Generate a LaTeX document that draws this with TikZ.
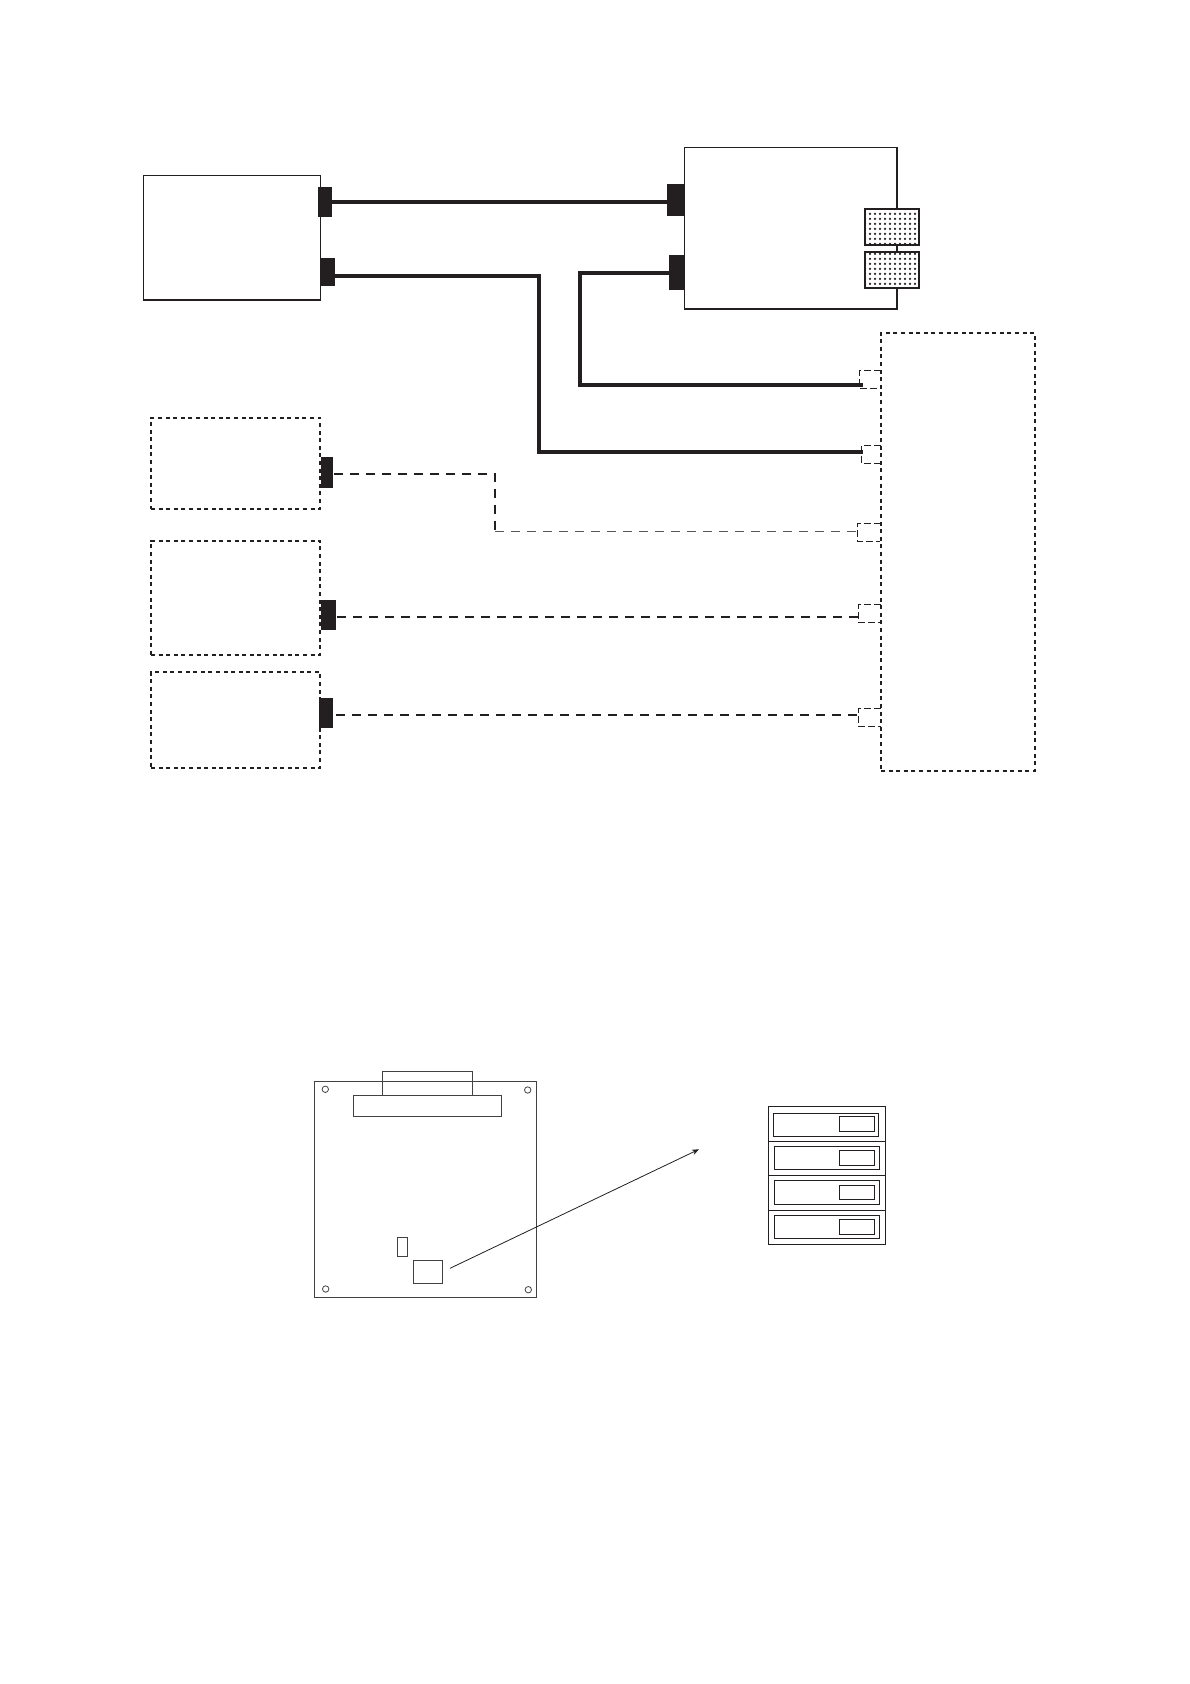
\documentclass[tikz,border=0pt]{standalone}
\usepackage{tikz}
\usetikzlibrary{arrows.meta, positioning, patterns.meta}
\definecolor{ink}{HTML}{231F20}
\tikzset{
  box/.style    = {rectangle, draw=ink, line width=1.5pt, anchor=north west,
                   inner sep=0pt, outer sep=0pt},
  dbox/.style   = {rectangle, draw=ink, line width=2pt, anchor=north west,
                   inner sep=0pt, outer sep=0pt, dash pattern=on 4pt off 3.6pt},
  plug/.style   = {rectangle, fill=ink, anchor=north west, inner sep=0pt, outer sep=0pt},
  stip/.style   = {rectangle, draw=ink, line width=1.9pt, anchor=north west,
                   inner sep=0pt, outer sep=0pt, minimum width=54pt, minimum height=36pt,
                   preaction={fill=white}, pattern={Dots[distance=5pt,radius=1.25pt]},
                   pattern color=ink},
  pin/.style    = {draw=ink, line width=1.3pt, dash pattern=on 7pt off 3pt},
  cable/.style  = {draw=ink, line width=4pt, line cap=butt, line join=miter},
  dcable/.style = {draw=ink, line width=2.1pt, dash pattern=on 9pt off 7pt},
  lcable/.style = {draw=ink!75, line width=1.3pt, dash pattern=on 9pt off 7pt},
  pcb/.style    = {rectangle, draw=ink!85, line width=1pt, anchor=north west,
                   inner sep=0pt, outer sep=0pt},
  hole/.style   = {circle, draw=ink!85, line width=0.8pt, inner sep=0pt, minimum size=6.4pt},
  sw/.style     = {rectangle, draw=ink, line width=1.2pt, anchor=north west,
                   inner sep=0pt, outer sep=0pt},
  ptr/.style    = {-{Stealth[length=7pt,width=5.5pt]}, draw=ink, line width=0.8pt},
}
\begin{document}
\begin{tikzpicture}[x=1pt,y=-1pt]
  \useasboundingbox (0,0) rectangle (1190,1684);

  \node[box, minimum width=177pt, minimum height=124.7pt] (host) at (143.7,175.3) {};
  \node[box, minimum width=212.5pt, minimum height=161.5pt] (main) at (684.5,147.5) {};
  \node[dbox, minimum width=154pt, minimum height=438pt] (ext) at (881,332.7) {};
  \node[dbox, minimum width=169pt, minimum height=91pt] (opta) at (151,417.7) {};
  \node[dbox, minimum width=169pt, minimum height=114.3pt] (optb) at (151,540.7) {};
  \node[dbox, minimum width=169pt, minimum height=95.7pt] (optc) at (151,672) {};

  \node[plug, minimum width=14pt, minimum height=30pt] (hosta) at (318,187) {};
  \node[plug, minimum width=14.7pt, minimum height=28pt] (hostb) at (320.3,258) {};
  \node[plug, minimum width=17.5pt, minimum height=32pt] (maina) at (667,184) {};
  \node[plug, minimum width=15.5pt, minimum height=35pt] (mainb) at (669,255) {};
  \node[plug, minimum width=12pt, minimum height=31pt] (optap) at (321,457) {};
  \node[plug, minimum width=14.7pt, minimum height=29.7pt] (optbp) at (321,600) {};
  \node[plug, minimum width=14pt, minimum height=30pt] (optcp) at (319,698) {};

  \node[stip] (panela) at (864.7,208.7) {};
  \node[stip, below=7.6pt of panela] (panelb) {};

  \coordinate (pina) at (859.7,370.3);
  \coordinate (pinb) at (861.7,445.3);
  \coordinate (pinc) at (857.7,523.3);
  \coordinate (pind) at (858.7,604.7);
  \coordinate (pine) at (858.7,708.3);
  \foreach \p in {pina,pinb,pinc,pind,pine}
    \draw[pin] (\p -| ext.west) -- (\p) -- ++(0,18) -- ++(22,0);

  \coordinate (enda) at (862.7,385);
  \coordinate (endb) at (862.7,451.5);
  \coordinate (endc) at (857.7,531.7);
  \coordinate (endd) at (858.7,616.7);
  \coordinate (ende) at (858.7,714.7);
  \coordinate (bendb) at (539,276.3);
  \coordinate (benda) at (580,273.3);
  \coordinate (bendc) at (495,473.7);

  \draw[cable] (hosta.east) -- (hosta.east -| maina.west);
  \draw[cable] (hostb.east |- bendb) -- (bendb) -- (bendb |- endb) -- (endb);
  \draw[cable] (mainb.west |- benda) -- (benda) -- (benda |- enda) -- (enda);
  \draw[dcable, shorten <=1pt] (optap.east |- bendc) -- (bendc) -- (bendc |- endc);
  \draw[lcable] (bendc |- endc) -- (endc);
  \draw[dcable, shorten <=1pt] (optbp.east |- endd) -- (endd);
  \draw[dcable, shorten <=3pt] (optcp.east |- ende) -- (ende);

  \node[pcb, minimum width=222pt, minimum height=216pt] (board) at (314.3,1081.3) {};
  \node[pcb, minimum width=90pt, minimum height=24pt] (tab) at (382.3,1071) {};
  \node[pcb, minimum width=148.3pt, minimum height=21.7pt] (slot) at (353,1095) {};
  \node[pcb, minimum width=10.4pt, minimum height=19pt] (jump) at (397.3,1237.3) {};
  \node[pcb, minimum width=29.4pt, minimum height=22.6pt] (dip) at (413.3,1260.7) {};
  \node[hole] (hola) at (325.3,1089.3) {};
  \node[hole] (holb) at (527.7,1090) {};
  \node[hole] (holc) at (325.7,1289) {};
  \node[hole] (hold) at (528.3,1289.7) {};

  \coordinate (ptra) at (450,1268.3);
  \coordinate (ptrb) at (699,1149.3);
  \draw[ptr] (ptra) -- (ptrb);

  \node[sw, minimum width=117.4pt, minimum height=35pt] (rowa) at (768.3,1106.3) {};
  \node[sw, minimum width=117.4pt, minimum height=34pt, below=0pt of rowa] (rowb) {};
  \node[sw, minimum width=117.4pt, minimum height=35pt, below=0pt of rowb] (rowc) {};
  \node[sw, minimum width=117.4pt, minimum height=34.4pt, below=0pt of rowc] (rowd) {};
  \node[sw, minimum width=105.4pt, minimum height=23pt] (slda) at (773.3,1113.3) {};
  \node[sw, minimum width=105.4pt, minimum height=23pt] (sldb) at (774.3,1146.3) {};
  \node[sw, minimum width=105.4pt, minimum height=24pt] (sldc) at (774.3,1180.3) {};
  \node[sw, minimum width=105.4pt, minimum height=23pt] (sldd) at (774.3,1215.3) {};
  \node[sw, minimum width=35.4pt, minimum height=15pt] (knba) at (839.3,1116.3) {};
  \node[sw, minimum width=35.4pt, minimum height=15.4pt] (knbb) at (839.3,1150.3) {};
  \node[sw, minimum width=35.4pt, minimum height=14pt] (knbc) at (839.3,1185.3) {};
  \node[sw, minimum width=35.4pt, minimum height=15.4pt] (knbd) at (839.3,1219.3) {};
\end{tikzpicture}
\end{document}
